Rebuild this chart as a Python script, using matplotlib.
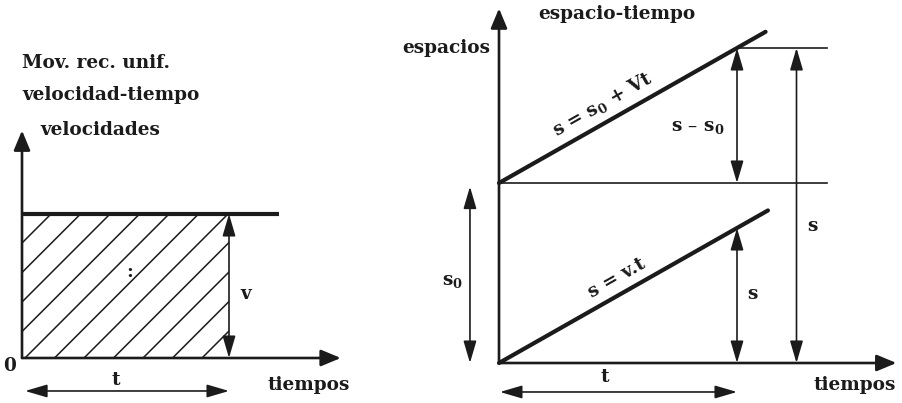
# Movimiento rectilineo uniforme: graficas velocidad-tiempo y espacio-tiempo
import numpy as np
import matplotlib.pyplot as plt
from matplotlib.patches import Rectangle

plt.rcParams['mathtext.fontset'] = 'dejavuserif'
plt.rcParams['mathtext.default'] = 'bf'

# datos del diagrama (unidades del dibujo)
v_const = 1.0          # velocidad constante
t_mark = 1.0           # instante t marcado
v_line_end = 1.24      # hasta donde llega la recta v
v_axis_end = [1.54, 1.58]   # puntas de flecha de los ejes (t, v)

s0 = 1.0               # posicion inicial
V = 0.75               # pendiente
line_t_end = [1.12, 1.13]   # final de las rectas s = s0 + Vt y s = v.t
s0_line_end = 1.38
s_arrow_t = 1.25
s_axis_end = [1.67, 1.97]

# escala de pixeles por unidad y origen de cada panel
W, H = 902, 403
ink = '#1b1b1b'
font = dict(family='DejaVu Serif', weight='bold', color=ink, fontsize=13.3)

fig = plt.figure(figsize=(W / 100, H / 100), dpi=100)


def panel(ox, oy, sx, sy):
    ax = fig.add_axes([0, 0, 1, 1])
    ax.set_xlim(-ox / sx, (W - ox) / sx)
    ax.set_ylim(-(H - oy) / sy, oy / sy)
    ax.set_axis_off()
    return ax


def arrow(ax, p0, p1, style='-|>', hl=0.6, hw=0.25, ms=20, lw=1.9):
    ax.annotate('', xy=p1, xytext=p0,
                arrowprops=dict(arrowstyle=f'{style},head_length={hl},head_width={hw}',
                                mutation_scale=ms, lw=lw, color=ink,
                                shrinkA=0, shrinkB=0))


def dim(ax, p0, p1):
    arrow(ax, p0, p1, style='<|-|>', hl=0.75, hw=0.22, ms=18, lw=1.2)


# ---------------- velocidad-tiempo ----------------
axl = panel(22, 358, 207, 144)
arrow(axl, (0, 0), (0, v_axis_end[1]))
arrow(axl, (0, 0), (v_axis_end[0], 0))
axl.plot([0, v_line_end], [v_const, v_const], color=ink, lw=3, solid_capstyle='butt')

# area rayada v*t
rect = Rectangle((0, 0), t_mark, v_const, fill=False, lw=0)
axl.add_patch(rect)
for c in np.arange(3 - 29.5 * 5, 207, 29.5):
    vv = np.array([0, 2])
    tt = (c + vv * 144) / 207
    ln, = axl.plot(tt, vv, color=ink, lw=1.1)
    ln.set_clip_path(rect)

dim(axl, (t_mark, v_const), (t_mark, 0))
dim(axl, (0.015, -0.229), (t_mark, -0.229))

axl.text(0, 2.049, 'Mov. rec. unif.', ha='left', va='center', **font)
axl.text(0, 1.826, 'velocidad-tiempo', ha='left', va='center', **font)
axl.text(0.087, 1.583, 'velocidades', ha='left', va='center', **font)
axl.text(-0.058, -0.056, '0', ha='center', va='center', **font)
axl.text(0.454, -0.153, 't', ha='center', va='center', **font)
axl.text(1.387, -0.1875, 'tiempos', ha='center', va='center', **font)
axl.text(1.082, 0.444, 'v', ha='center', va='center', **font)
axl.text(0.522, 0.597, ':', ha='center', va='center', **font)

# ---------------- espacio-tiempo ----------------
axr = panel(499, 363, 238, 180)
arrow(axr, (0, 0), (0, s_axis_end[1]))
arrow(axr, (0, 0), (s_axis_end[0], 0))
axr.plot([0, s0_line_end], [s0, s0], color=ink, lw=1.2)
axr.plot([t_mark, s0_line_end], [s0 + V * t_mark] * 2, color=ink, lw=1.2)

tt = np.array([0, line_t_end[0]])
axr.plot(tt, s0 + V * tt, color=ink, lw=3, solid_capstyle='round')
tt = np.array([0, line_t_end[1]])
axr.plot(tt, V * tt, color=ink, lw=3, solid_capstyle='round')

dim(axr, (t_mark, s0 + V * t_mark), (t_mark, s0))
dim(axr, (s_arrow_t, s0 + V * t_mark), (s_arrow_t, 0))
dim(axr, (t_mark, V * t_mark), (t_mark, 0))
dim(axr, (-0.122, 0.98 * s0), (-0.122, 0))
dim(axr, (0.004, -0.161), (t_mark, -0.161))

axr.text(0.496, 1.939, 'espacio-tiempo', ha='center', va='center', **font)
axr.text(-0.038, 1.75, 'espacios', ha='right', va='center', **font)
axr.text(0.836, 1.311, 's – s$_0$', ha='center', va='center', **font)
axr.text(1.319, 0.761, 's', ha='center', va='center', **font)
axr.text(1.063, 0.383, 's', ha='center', va='center', **font)
axr.text(-0.197, 0.456, 's$_0$', ha='center', va='center', **font)
axr.text(0.445, -0.078, 't', ha='center', va='center', **font)
axr.text(1.496, -0.122, 'tiempos', ha='center', va='center', **font)

ang = np.degrees(np.arctan(V * 180 / 238))
axr.text(0.433, 1.439, 's = s$_0$ + Vt', ha='center', va='center',
         rotation=ang, rotation_mode='anchor', **font)
axr.text(0.496, 0.472, 's = v.t', ha='center', va='center',
         rotation=ang, rotation_mode='anchor', **font)

fig.savefig('out.png', dpi=100, facecolor='white')
